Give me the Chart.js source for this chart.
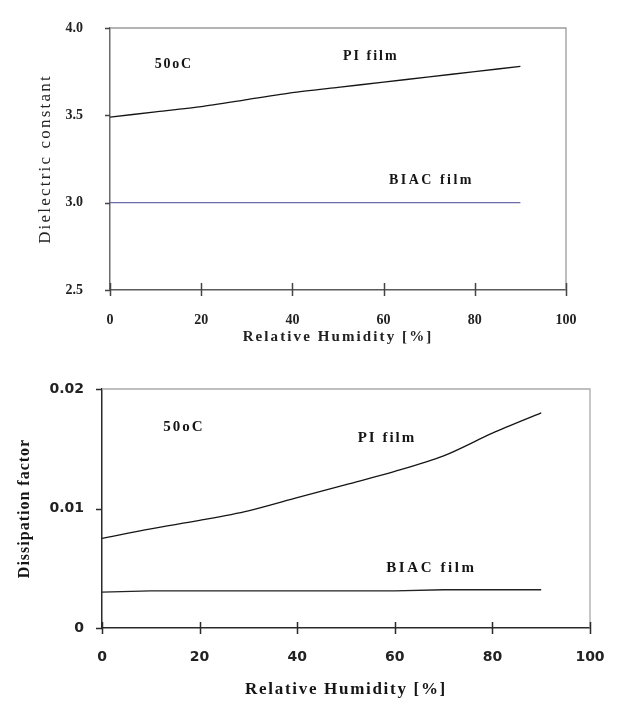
<!DOCTYPE html>
<html><head><meta charset="utf-8">
<script src="https://cdn.jsdelivr.net/npm/chart.js@4.4.1/dist/chart.umd.min.js"></script>
<style>
html,body{margin:0;padding:0;background:#fff;}
#wrap{position:relative;width:620px;height:702px;background:#fff;}
canvas{position:absolute;left:0;}
#c1{top:0;}
#c2{top:350px;}
</style></head><body>
<div id="wrap">
<canvas id="c1" width="620" height="350" style="width:620px;height:350px"></canvas>
<canvas id="c2" width="620" height="352" style="width:620px;height:352px"></canvas>
</div>
<script>
// ---- data ----
const humidity = [0, 10, 20, 30, 40, 50, 60, 70, 80, 90];
const piDielectric = [3.49, 3.52, 3.55, 3.59, 3.63, 3.66, 3.69, 3.72, 3.75, 3.78];
const biacDielectric = [3.0, 3.0, 3.0, 3.0, 3.0, 3.0, 3.0, 3.0, 3.0, 3.0];
const piDissipation = [0.0075, 0.0083, 0.0090, 0.0098, 0.0109, 0.0120, 0.0131, 0.0144, 0.0163, 0.0180];
const biacDissipation = [0.0030, 0.0031, 0.0031, 0.0031, 0.0031, 0.0031, 0.0031, 0.0032, 0.0032, 0.0032];
const humidityTicks = [0, 20, 40, 60, 80, 100];
const dielectricTicks = [2.5, 3.0, 3.5, 4.0];
const dielectricTickLabels = ['2.5', '3.0', '3.5', '4.0'];
const dissipationTicks = [0, 0.01, 0.02];
const dissipationTickLabels = ['0', '0.01', '0.02'];
const xAxisTitle = 'Relative Humidity [%]';
const topYTitle = 'Dielectric constant';
const bottomYTitle = 'Dissipation factor';
const seriesNames = ['PI film', 'BIAC film'];
const tempLabel = '50oC';

const pts = (xs, ys) => xs.map((x, i) => ({x: x, y: ys[i]}));

function framePlugin(opt) {
  return {
    id: 'frame',
    afterLayout(chart) {
      ['x', 'y'].forEach(k => {
        const s = chart.scales[k];
        if (s && !s._spaced) {
          s._spaced = true;
          const orig = s.drawTitle.bind(s);
          const sp = opt.titleSpacing[k];
          s.drawTitle = function () {
            const c = this.ctx; c.save(); c.letterSpacing = sp; orig(); c.restore();
          };
        }
      });
    },
    afterDraw(chart) {
      const ctx = chart.ctx, a = chart.chartArea;
      const xs = chart.scales.x, ys = chart.scales.y;
      ctx.save();
      // top & right frame
      ctx.strokeStyle = opt.frameColor; ctx.lineWidth = 1.3;
      ctx.beginPath();
      ctx.moveTo(a.left, a.top); ctx.lineTo(a.right, a.top); ctx.lineTo(a.right, a.bottom);
      ctx.stroke();
      // tick marks
      ctx.strokeStyle = opt.tickColor; ctx.lineWidth = 1.5;
      ctx.beginPath();
      xs.ticks.forEach(t => {
        const px = Math.round(xs.getPixelForValue(t.value)) + 0.5;
        ctx.moveTo(px, a.bottom - opt.xTickIn); ctx.lineTo(px, a.bottom + opt.xTickOut);
      });
      ys.ticks.forEach(t => {
        const py = Math.round(ys.getPixelForValue(t.value)) + 0.5;
        ctx.moveTo(a.left - opt.yTickOut, py); ctx.lineTo(a.left, py);
      });
      ctx.stroke();
      // text annotations
      ctx.fillStyle = '#151515'; ctx.textAlign = 'center'; ctx.textBaseline = 'middle';
      opt.notes.forEach(n => {
        ctx.font = n.font; ctx.letterSpacing = n.spacing;
        ctx.fillText(n.text, xs.getPixelForValue(n.x), ys.getPixelForValue(n.y));
      });
      ctx.restore();
    }
  };
}

function setTicks(values) {
  return function (scale) { scale.ticks = values.map(v => ({value: v})); };
}
function fixWidth(w) {
  return function (s) { s.width = w; s.paddingTop = 0; s.paddingBottom = 0; };
}
function fixHeight(h) {
  return function (s) { s.height = h; s.paddingLeft = 0; s.paddingRight = 0; };
}

// ---- top chart ----
new Chart(document.getElementById('c1'), {
  type: 'line',
  data: {
    datasets: [
      {label: seriesNames[0], data: pts(humidity, piDielectric), borderColor: '#151515', borderWidth: 1.4, pointRadius: 0, tension: 0.2},
      {label: seriesNames[1], data: pts(humidity, biacDielectric), borderColor: '#6a6aa6', borderWidth: 1.3, pointRadius: 0}
    ]
  },
  options: {
    responsive: false, animation: false,
    layout: {padding: {top: 28, right: 54, left: 0, bottom: 0}},
    plugins: {legend: {display: false}, tooltip: {enabled: false}},
    scales: {
      x: {
        type: 'linear', min: 0, max: 100,
        afterBuildTicks: setTicks(humidityTicks),
        afterFit: fixHeight(60),
        grid: {display: false, drawTicks: false},
        border: {display: true, color: '#5a5a5a', width: 1.5},
        ticks: {padding: 22, color: '#222', font: {family: '"Liberation Serif", serif', size: 14, weight: 'bold'}, maxRotation: 0},
        title: {display: true, text: xAxisTitle, color: '#222', padding: {top: 0, bottom: 4},
          font: {family: '"Liberation Serif", serif', size: 15, weight: 'bold'}}
      },
      y: {
        type: 'linear', min: 2.5, max: 4.0,
        afterBuildTicks: setTicks(dielectricTicks),
        afterFit: fixWidth(110),
        grid: {display: false, drawTicks: false},
        border: {display: true, color: '#6a6a6a', width: 1.5},
        ticks: {padding: 27, color: '#222', font: {family: '"Liberation Serif", serif', size: 14, weight: 'bold'},
          callback: (v) => dielectricTickLabels[dielectricTicks.indexOf(v)]},
        title: {display: true, text: topYTitle, color: '#222', padding: {top: 35, bottom: 0},
          font: {family: '"Liberation Serif", serif', size: 17, weight: 'normal'}}
      }
    }
  },
  plugins: [framePlugin({
    frameColor: '#9a9a9a', tickColor: '#444', xTickIn: 7, xTickOut: 6, yTickOut: 5,
    titleSpacing: {x: '2.1px', y: '2.2px'},
    notes: [
      {text: tempLabel, x: 14, y: 3.79, font: 'bold 14px "Liberation Serif"', spacing: '1.8px'},
      {text: seriesNames[0], x: 57.2, y: 3.835, font: 'bold 14px "Liberation Serif"', spacing: '2px'},
      {text: seriesNames[1], x: 70.5, y: 3.13, font: 'bold 14px "Liberation Serif"', spacing: '2.5px'}
    ]
  })]
});

// ---- bottom chart ----
new Chart(document.getElementById('c2'), {
  type: 'line',
  data: {
    datasets: [
      {label: seriesNames[0], data: pts(humidity, piDissipation), borderColor: '#151515', borderWidth: 1.3, pointRadius: 0, tension: 0.3},
      {label: seriesNames[1], data: pts(humidity, biacDissipation), borderColor: '#222', borderWidth: 1.3, pointRadius: 0}
    ]
  },
  options: {
    responsive: false, animation: false,
    layout: {padding: {top: 39, right: 30, left: 0, bottom: 0}},
    plugins: {legend: {display: false}, tooltip: {enabled: false}},
    scales: {
      x: {
        type: 'linear', min: 0, max: 100,
        afterBuildTicks: setTicks(humidityTicks),
        afterFit: fixHeight(74),
        grid: {display: false, drawTicks: false},
        border: {display: true, color: '#2a2a2a', width: 1.5},
        ticks: {padding: 21, color: '#222', font: {family: '"DejaVu Sans", sans-serif', size: 14, weight: 'bold'}, maxRotation: 0},
        title: {display: true, text: xAxisTitle, color: '#151515', padding: {top: 0, bottom: 2},
          font: {family: '"Liberation Serif", serif', size: 17, weight: 'bold'}}
      },
      y: {
        type: 'linear', min: 0, max: 0.02,
        afterBuildTicks: setTicks(dissipationTicks),
        afterFit: fixWidth(102),
        grid: {display: false, drawTicks: false},
        border: {display: true, color: '#2a2a2a', width: 1.5},
        ticks: {padding: 18, color: '#222', font: {family: '"DejaVu Sans", sans-serif', size: 14, weight: 'bold'},
          callback: (v) => dissipationTickLabels[dissipationTicks.indexOf(v)]},
        title: {display: true, text: bottomYTitle, color: '#151515', padding: {top: 15, bottom: 0},
          font: {family: '"Liberation Serif", serif', size: 16, weight: 'bold'}}
      }
    }
  },
  plugins: [framePlugin({
    frameColor: '#aaaaaa', tickColor: '#2a2a2a', xTickIn: 6, xTickOut: 6, yTickOut: 6,
    titleSpacing: {x: '1.7px', y: '1px'},
    notes: [
      {text: tempLabel, x: 16.8, y: 0.0168, font: 'bold 15px "Liberation Serif"', spacing: '2px'},
      {text: seriesNames[0], x: 58.4, y: 0.0159, font: 'bold 15px "Liberation Serif"', spacing: '2px'},
      {text: seriesNames[1], x: 67.5, y: 0.0050, font: 'bold 15px "Liberation Serif"', spacing: '2.6px'}
    ]
  })]
});
</script>
</body></html>
